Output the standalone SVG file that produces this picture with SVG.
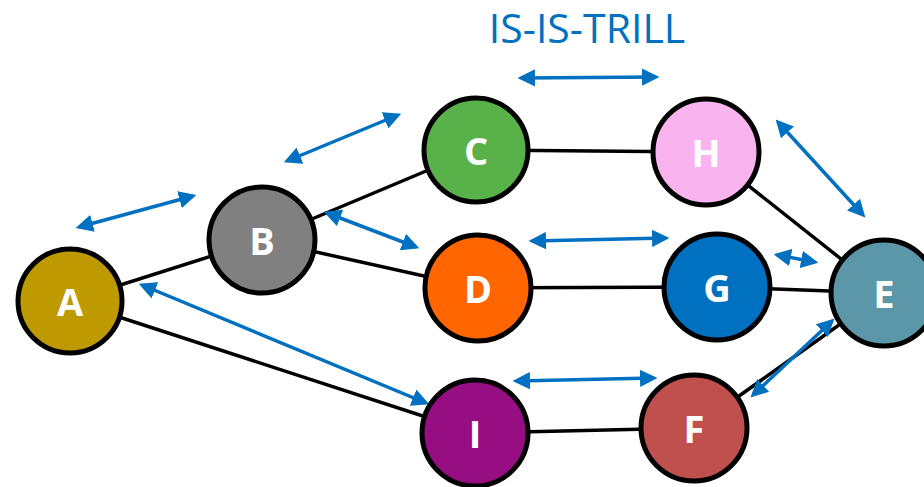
<svg xmlns="http://www.w3.org/2000/svg" width="924" height="487" viewBox="0 0 924 487">
  <style>
    .edge { stroke: #000; stroke-width: 3.5; fill: none; }
    .flow { stroke: #0070C0; stroke-width: 3.5; fill: none; marker-start: url(#head); marker-end: url(#head); }
    .node circle { stroke: #000; stroke-width: 5; }
    .node text { font-family: "Open Sans", "Liberation Sans", sans-serif; font-weight: bold; font-size: 38px; fill: #fff; text-anchor: middle; dominant-baseline: central; }
    .title { font-family: "Open Sans", "Liberation Sans", sans-serif; font-size: 41px; fill: #0070C0; text-anchor: middle; }
  </style>
  <defs>
    <marker id="head" viewBox="0 0 10 10" refX="8" refY="5" markerWidth="5" markerHeight="5" orient="auto-start-reverse" markerUnits="strokeWidth">
      <path d="M0,0 L10,5 L0,10 z" fill="#0070C0"/>
    </marker>
  </defs>
  <rect width="924" height="487" fill="#fff"/>

  <text class="title" x="587" y="43">IS-IS-TRILL</text>

  <!-- links between bridges -->
  <g id="links">
    <line class="edge" x1="70" y1="301" x2="262" y2="240"/>
    <line class="edge" x1="70" y1="301" x2="475" y2="433"/>
    <line class="edge" x1="262" y1="240" x2="476" y2="150"/>
    <line class="edge" x1="262" y1="240" x2="478" y2="288"/>
    <line class="edge" x1="476" y1="150" x2="706" y2="152"/>
    <line class="edge" x1="478" y1="288" x2="717" y2="287"/>
    <line class="edge" x1="475" y1="433" x2="694" y2="428"/>
    <line class="edge" x1="706" y1="152" x2="884" y2="293"/>
    <line class="edge" x1="717" y1="287" x2="884" y2="293"/>
    <line class="edge" x1="694" y1="428" x2="884" y2="293"/>
  </g>

  <!-- IS-IS adjacencies -->
  <g id="adjacencies">
    <line class="flow" x1="79" y1="227" x2="193" y2="196"/>
    <line class="flow" x1="287" y1="161" x2="398" y2="115"/>
    <line class="flow" x1="521" y1="78" x2="656" y2="77"/>
    <line class="flow" x1="327" y1="213" x2="416" y2="247"/>
    <line class="flow" x1="532" y1="241" x2="666" y2="238"/>
    <line class="flow" x1="142" y1="285" x2="426" y2="403"/>
    <line class="flow" x1="516" y1="381" x2="654" y2="378"/>
    <line class="flow" x1="778" y1="122" x2="863" y2="215"/>
    <line class="flow" x1="777" y1="255" x2="815" y2="262"/>
    <line class="flow" x1="753" y1="395" x2="832" y2="321"/>
  </g>

  <g id="node-A" class="node"><circle cx="70" cy="301" r="52" fill="#BF9900"/><text x="70" y="301">A</text></g>
  <g id="node-B" class="node"><circle cx="262" cy="240" r="53" fill="#808080"/><text x="262" y="240">B</text></g>
  <g id="node-C" class="node"><circle cx="476" cy="150" r="52" fill="#58B249"/><text x="476" y="150">C</text></g>
  <g id="node-D" class="node"><circle cx="478" cy="288" r="53" fill="#FF6600"/><text x="478" y="288">D</text></g>
  <g id="node-H" class="node"><circle cx="706" cy="152" r="53" fill="#F9B4F0"/><text x="706" y="152">H</text></g>
  <g id="node-G" class="node"><circle cx="717" cy="287" r="53" fill="#0070C0"/><text x="717" y="287">G</text></g>
  <g id="node-E" class="node"><circle cx="884" cy="293" r="53" fill="#5B97A8"/><text x="884" y="293">E</text></g>
  <g id="node-I" class="node"><circle cx="475" cy="433" r="53" fill="#960E82"/><text x="475" y="433">I</text></g>
  <g id="node-F" class="node"><circle cx="694" cy="428" r="53" fill="#C0504D"/><text x="694" y="428">F</text></g>
</svg>
